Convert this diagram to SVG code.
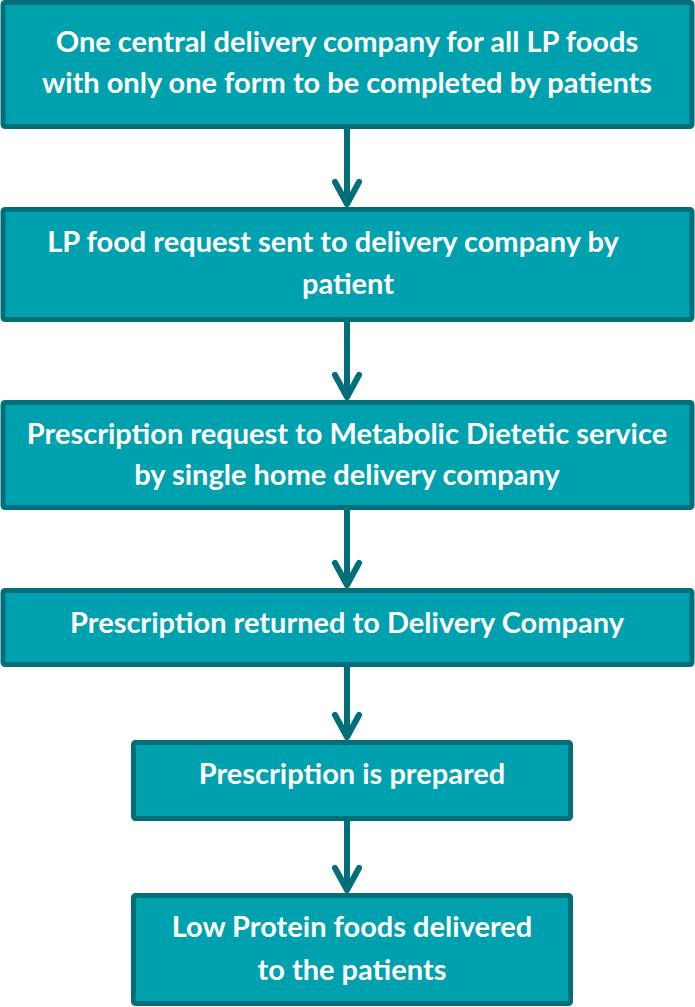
<svg xmlns="http://www.w3.org/2000/svg" width="695" height="1007" viewBox="0 0 695 1007">
<defs>
<style>
.box{fill:#00A1AF;stroke:#006F79;stroke-width:5}
.t{font-family:Lato,"Open Sans","Liberation Sans",sans-serif;font-weight:bold;font-size:29px;fill:#ffffff;text-anchor:middle}
.c{stroke:#006F79;stroke-width:6;fill:none}
.h{stroke:#006F79;stroke-width:6;fill:none;stroke-linecap:round;stroke-linejoin:round}
</style>
</defs>
<rect width="695" height="1007" fill="#ffffff"/>
<g id="connectors">
<line class="c" x1="347" y1="129" x2="347" y2="204"/>
<polyline class="h" points="335,182 347,204 359,182"/>
<line class="c" x1="347" y1="322" x2="347" y2="397"/>
<polyline class="h" points="335,375 347,397 359,375"/>
<line class="c" x1="347" y1="510" x2="347" y2="585"/>
<polyline class="h" points="335,563 347,585 359,563"/>
<line class="c" x1="347" y1="667" x2="347" y2="737"/>
<polyline class="h" points="335,715 347,737 359,715"/>
<line class="c" x1="347" y1="821" x2="347" y2="890"/>
<polyline class="h" points="335,868 347,890 359,868"/>
</g>
<g id="n1">
<rect class="box" x="3" y="2.5" width="689" height="124" rx="2"/>
<text class="t" x="347" y="52">One central delivery company for all LP foods</text>
<text class="t" x="347" y="93">with only one form to be completed by patients</text>
</g>
<g id="n2">
<rect class="box" x="3" y="209.5" width="689" height="110" rx="2"/>
<text class="t" x="333" y="252">LP food request sent to delivery company by</text>
<text class="t" x="348" y="294">patient</text>
</g>
<g id="n3">
<rect class="box" x="3" y="402.5" width="689" height="105" rx="2"/>
<text class="t" x="347" y="444">Prescription request to Metabolic Dietetic service</text>
<text class="t" x="347" y="485">by single home delivery company</text>
</g>
<g id="n4">
<rect class="box" x="3" y="590.5" width="689" height="74" rx="2"/>
<text class="t" x="347" y="633">Prescription returned to Delivery Company</text>
</g>
<g id="n5">
<rect class="box" x="133.5" y="742.5" width="437" height="76" rx="2"/>
<text class="t" x="352" y="784">Prescription is prepared</text>
</g>
<g id="n6">
<rect class="box" x="133.5" y="895.5" width="437" height="108" rx="2"/>
<text class="t" x="352" y="937">Low Protein foods delivered</text>
<text class="t" x="352" y="980">to the patients</text>
</g>
</svg>
